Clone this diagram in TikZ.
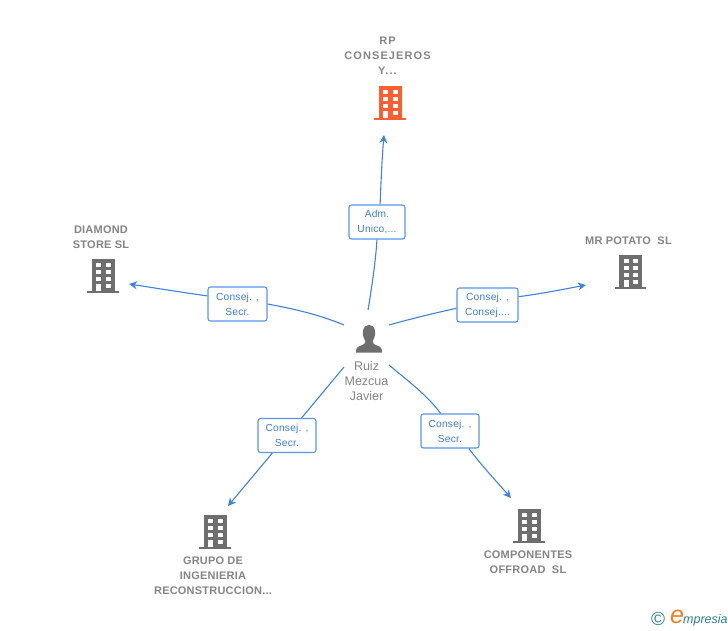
\documentclass[tikz,border=0pt]{standalone}
\usepackage{fontspec}
\setmainfont{Liberation Sans}
\usetikzlibrary{arrows.meta}
\definecolor{linkblue}{HTML}{3F83E0}
\definecolor{boxblue}{HTML}{5A96E8}
\definecolor{txtblue}{HTML}{3B7DD8}
\definecolor{greytxt}{HTML}{858585}
\definecolor{bgrey}{HTML}{6E6E6E}
\definecolor{borange}{HTML}{FF5F2E}
\definecolor{teal}{HTML}{2F7F95}
\definecolor{eorange}{HTML}{F08020}
\tikzset{
  x=1pt,y=-1pt,
  rolebox/.style={draw=boxblue,line width=1.1pt,rounded corners=2.5pt,fill=white,text=txtblue,
    font=\fontsize{10.2}{15}\selectfont\addfontfeatures{LetterSpace=2},align=center,inner sep=0pt},
  link/.style={draw=linkblue,line width=1.1pt},
  tip/.style={link,-{Stealth[length=8pt,width=8pt,inset=2.5pt]}},
  title/.style={text=greytxt,font=\fontsize{11}{15}\selectfont\bfseries\addfontfeatures{LetterSpace=2},align=center,inner sep=0pt},
  widetitle/.style={title,font=\fontsize{11}{15}\selectfont\bfseries\addfontfeatures{LetterSpace=10}},
  persontxt/.style={text=greytxt,font=\fontsize{12.5}{15}\selectfont,align=center,inner sep=0pt},
  pics/bldg/.style={code={
    \fill[#1] (-11.5,-16.5) rectangle (11.5,15.5);
    \fill[#1] (-16,15.5) rectangle (15.5,17.8);
    \foreach \yy in {-12.5,-5.5,1.5}{
      \fill[white] (-7,\yy) rectangle (-2,\yy+4.2);
      \fill[white] (2.5,\yy) rectangle (7.5,\yy+4.2);
    }
    \fill[white] (-7,8.5) rectangle (-2,15.5);
    \fill[white] (2.5,8.5) rectangle (7.5,12.7);
  }}
}
\begin{document}
\begin{tikzpicture}
\useasboundingbox (0,0) rectangle (728,630);
\fill[white] (0,0) rectangle (728,630);

% person
\node[inner sep=0pt] (person) at (369,339) {};
\fill[bgrey] (369,325) .. controls (363,325) and (362.5,331) .. (363,335)
  .. controls (363.5,338) and (364.5,340) .. (365.5,341)
  .. controls (365.5,343.5) and (364,344.5) .. (361,345.5)
  .. controls (357,347) and (356,348) .. (356,352.5)
  -- (382,352.5)
  .. controls (382,348) and (381,347) .. (377,345.5)
  .. controls (374,344.5) and (372.5,343.5) .. (372.5,341)
  .. controls (373.5,340) and (374.5,338) .. (375,335)
  .. controls (375.5,331) and (375,325) .. (369,325) -- cycle;
\node[persontxt] (pname) at (366.5,381) {Ruiz\\Mezcua\\Javier};

% connector ends at the person
\coordinate (pT) at (368,310);
\coordinate (pL) at (344,325);
\coordinate (pR) at (389,325);
\coordinate (pBL) at (344,367);
\coordinate (pBR) at (389,365);
% arrow tips
\coordinate (tT) at (384,135);
\coordinate (tL) at (129,284);
\coordinate (tR) at (586,285);
\coordinate (tBL) at (228,506);
\coordinate (tBR) at (511,498);

% role boxes
\node[rolebox,minimum width=56pt,minimum height=34pt] (bT) at (377,222) {Adm.\\Unico,...};
\node[rolebox,minimum width=59pt,minimum height=34pt] (bL) at (237.5,304) {Consej. ,\\Secr.};
\node[rolebox,minimum width=61pt,minimum height=34pt] (bR) at (487.5,305) {Consej. ,\\Consej....};
\node[rolebox,minimum width=58pt,minimum height=34pt] (bBL) at (287,435.5) {Consej. ,\\Secr.};
\node[rolebox,minimum width=58pt,minimum height=34pt] (bBR) at (450,431) {Consej. ,\\Secr.};

% connectors
\draw[link] (pT) .. controls (372,286) and (375.5,262) .. (bT.south);
\draw[tip] (bT.80) .. controls (381,182) and (382,158) .. (tT);
\draw[link] (pL) .. controls (320,315) and (295,309) .. (bL.east);
\draw[tip] (bL.165) .. controls (180,292) and (155,288) .. (tL);
\draw[link] (pR) .. controls (410,319) and (435,313) .. (bR.186);
\draw[tip] (bR.15) .. controls (540,294) and (565,289) .. (tR);
\draw[link] (pBL) -- (bBL);
\draw[tip] (bBL) -- (tBL);
\draw[link] (pBR) .. controls (408,381) and (427,395) .. (bBR.118);
\draw[tip] (bBR.-43) .. controls (482,466) and (497,482) .. (tBR);

% buildings
\pic at (390,102) {bldg=borange};
\pic at (103,275) {bldg=bgrey};
\pic at (630.5,271.5) {bldg=bgrey};
\pic at (215,531.5) {bldg=bgrey};
\pic at (529,525) {bldg=bgrey};

% titles
\node[widetitle] (tRP) at (387.5,56) {RP\\CONSEJEROS\\Y...};
\node[title] (tDI) at (101,237) {DIAMOND\\STORE SL};
\node[title] (tMR) at (628.5,241) {MR POTATO\ \ SL};
\node[title] (tGR) at (213,576) {GRUPO DE\\INGENIERIA\\RECONSTRUCCION...};
\node[title] (tCO) at (528,562) {COMPONENTES\\OFFROAD\ \ SL};

% logo
\node[inner sep=0pt,text=teal,font=\fontsize{19}{19}\selectfont] (copy) at (658,619) {\textcopyright};
\node[inner sep=0pt,text=eorange,font=\fontsize{25}{25}\selectfont\itshape] (elogo) at (677,617) {e};
\node[inner sep=0pt,text=teal,font=\fontsize{12.5}{14}\selectfont\itshape,anchor=west] (mlogo) at (683,620) {mpresia};
\end{tikzpicture}
\end{document}
